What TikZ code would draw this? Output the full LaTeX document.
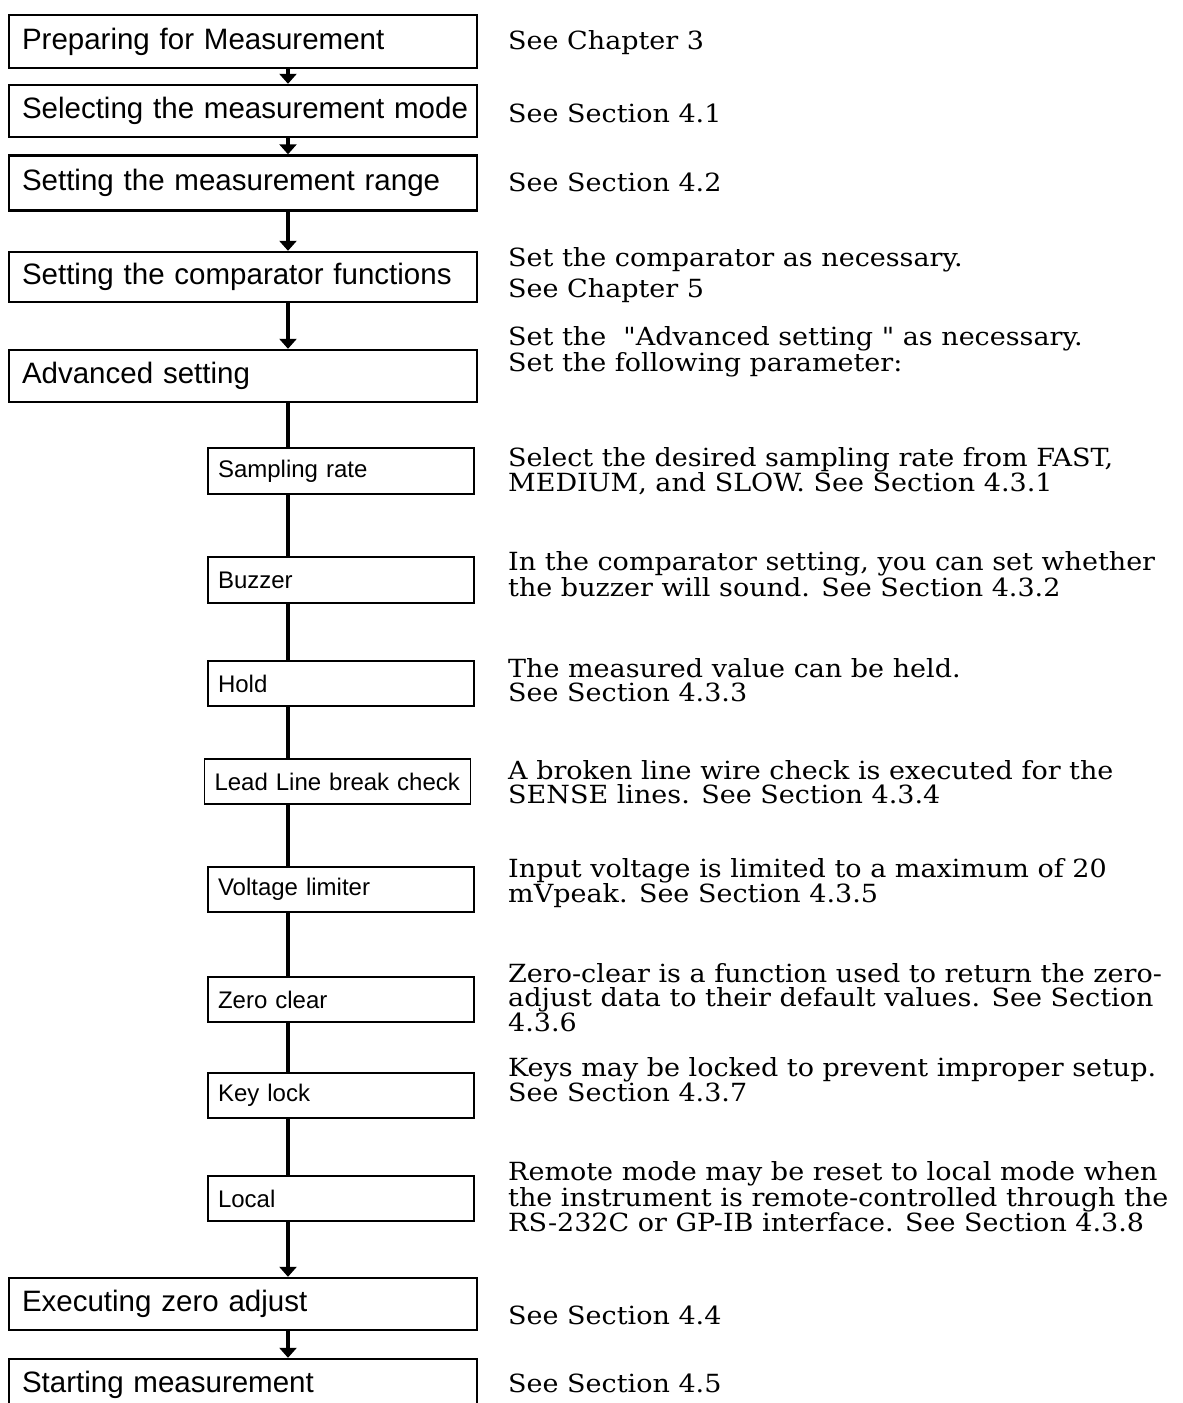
\documentclass[tikz,border=0pt]{standalone}
\usepackage{fontspec}
\setmainfont{DejaVu Serif}[FakeStretch=1.08]
\newfontfamily\plainquote{DejaVu Serif}[FakeStretch=1.08]
\newfontfamily\boxfont{Liberation Sans}
\usetikzlibrary{arrows.meta}

\tikzset{
  bigbox/.style={draw, line width=2.4pt, minimum width=468pt, minimum height=52pt,
    text width=455pt, inner xsep=6.5pt, align=left, execute at begin node=\hspace*{6.5pt},
    font=\boxfont\fontsize{29.5}{32}\selectfont},
  subbox/.style={draw, line width=1.3pt, minimum width=266pt, minimum height=46pt,
    text width=254pt, inner xsep=6pt, align=left, execute at begin node=\hspace*{4pt},
    font=\boxfont\fontsize{24}{26}\selectfont},
  note/.style={anchor=west, align=left, inner sep=0pt, font=\fontsize{25}{24}\selectfont},
  flow/.style={line width=4.5pt},
  flowarrow/.style={line width=4.5pt, -{Triangle[width=17pt,length=10pt]}}
}
\newcommand{\dq}{{\plainquote\symbol{34}}}

\begin{document}
\begin{tikzpicture}[x=1pt,y=-1pt]
  \clip (0,0) rectangle (1183,1403);
  \coordinate (spine) at (288,0);

  % main steps
  \node[bigbox, minimum height=53pt] (prep) at (243,41.5) {Preparing for Measurement};
  \node[bigbox] (mode) at (243,111) {Selecting the measurement mode};
  \node[bigbox, minimum height=55pt] (range) at (243,183) {Setting the measurement range};
  \node[bigbox, minimum height=50pt] (comp) at (243,277) {Setting the comparator functions};
  \node[bigbox] (adv) at (243,376) {Advanced setting};
  \node[bigbox] (zadj) at (243,1304) {Executing zero adjust};
  \node[bigbox] (start) at (243,1385) {Starting measurement};

  % advanced setting items
  \node[subbox] (samp) at (341,471) {Sampling rate};
  \node[subbox] (buzz) at (341,580) {Buzzer};
  \node[subbox, minimum height=45pt] (hold) at (341,683.5) {Hold};
  \node[subbox, minimum height=45pt] (lead) at (337.5,781.5) {Lead Line break check};
  \node[subbox, minimum height=45pt] (volt) at (341,889.5) {Voltage limiter};
  \node[subbox, minimum height=45pt] (zclr) at (341,999.5) {Zero clear};
  \node[subbox, minimum height=45pt] (klock) at (341,1095.5) {Key lock};
  \node[subbox, minimum height=45pt] (local) at (341,1198.5) {Local};

  % connectors
  \draw[flowarrow] (prep.south -| spine) -- (mode.north -| spine);
  \draw[flowarrow] (mode.south -| spine) -- (range.north -| spine);
  \draw[flowarrow] (range.south -| spine) -- (comp.north -| spine);
  \draw[flowarrow] (comp.south -| spine) -- (adv.north -| spine);
  \draw[flow] (adv.south -| spine) -- (samp.north -| spine);
  \draw[flow] (samp.south -| spine) -- (buzz.north -| spine);
  \draw[flow] (buzz.south -| spine) -- (hold.north -| spine);
  \draw[flow] (hold.south -| spine) -- (lead.north -| spine);
  \draw[flow] (lead.south -| spine) -- (volt.north -| spine);
  \draw[flow] (volt.south -| spine) -- (zclr.north -| spine);
  \draw[flow] (zclr.south -| spine) -- (klock.north -| spine);
  \draw[flow] (klock.south -| spine) -- (local.north -| spine);
  \draw[flowarrow] (local.south -| spine) -- (zadj.north -| spine);
  \draw[flowarrow] (zadj.south -| spine) -- (start.north -| spine);

  % notes
  \node[note] (nprep) at (508,43) {See Chapter 3};
  \node[note] (nmode) at (508,113) {See Section 4.1};
  \node[note] (nrange) at (508,182) {See Section 4.2};
  \node[note] (ncomp) at (508,275) {Set the comparator as necessary.\\[5pt]See Chapter 5};
  \node[note] (nadv) at (508,352) {Set the\ \ \dq Advanced setting\ \dq\ as necessary.\\Set the following parameter:};
  \node[note] (nsamp) at (508,471) {Select the desired sampling rate from FAST,\\MEDIUM, and SLOW. See Section 4.3.1};
  \node[note] (nbuzz) at (508,574) {In the comparator setting, you can set whether\\the buzzer will sound. See Section 4.3.2};
  \node[note] (nhold) at (508,680) {The measured value can be held.\\See Section 4.3.3};
  \node[note] (nlead) at (508,782) {A broken line wire check is executed for the\\SENSE lines. See Section 4.3.4};
  \node[note] (nvolt) at (508,883) {Input voltage is limited to a maximum of 20\\mVpeak. See Section 4.3.5};
  \node[note] (nzclr) at (508,998) {Zero-clear is a function used to return the zero-\\adjust data to their default values. See Section\\4.3.6};
  \node[note] (nklock) at (508,1080) {Keys may be locked to prevent improper setup.\\See Section 4.3.7};
  \node[note] (nlocal) at (508,1197) {Remote mode may be reset to local mode when\\the instrument is remote-controlled through the\\RS-232C or GP-IB interface. See Section 4.3.8};
  \node[note] (nzadj) at (508,1315) {See Section 4.4};
  \node[note] (nstart) at (508,1383) {See Section 4.5};
\end{tikzpicture}
\end{document}
